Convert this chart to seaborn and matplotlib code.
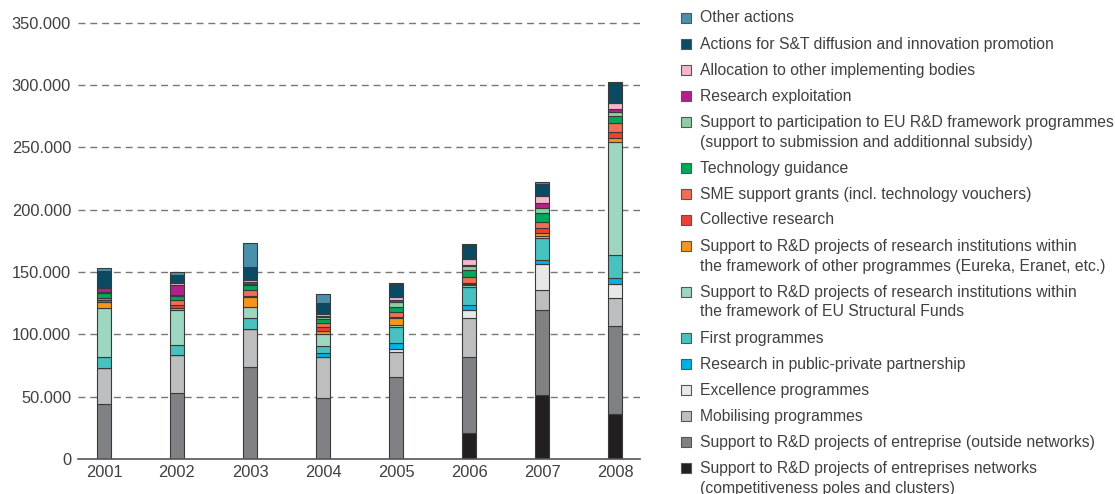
import numpy as np
import pandas as pd
import matplotlib
matplotlib.use("Agg")
import matplotlib.pyplot as plt
from matplotlib.patches import Rectangle
import seaborn as sns

# --- data (values in euros thousands) ---
years = [2001, 2002, 2003, 2004, 2005, 2006, 2007, 2008]

other_actions = [2.5, 2.4, 19.8, 7.0, 1.3, 0.8, 1.6, 1.0]
diffusion = [13.0, 7.0, 10.5, 9.0, 10.5, 11.0, 9.5, 16.0]
allocation = [1.0, 1.3, 1.0, 1.2, 2.1, 4.5, 5.5, 5.0]
exploitation = [3.0, 8.0, 1.5, 1.0, 2.1, 1.0, 4.0, 2.5]
eu_participation = [1.0, 1.0, 1.0, 1.5, 3.5, 3.5, 4.0, 2.5]
tech_guidance = [3.5, 3.2, 4.5, 3.5, 4.5, 5.3, 7.5, 6.0]
sme_grants = [2.0, 3.5, 4.3, 3.5, 4.0, 4.5, 5.0, 7.5]
collective = [1.5, 2.5, 0.8, 3.2, 0.5, 0.8, 4.0, 4.5]
other_programmes = [4.8, 1.9, 8.5, 2.4, 5.4, 1.5, 2.0, 3.0]
structural_funds = [39.3, 28.0, 8.8, 9.1, 1.5, 1.0, 1.5, 90.9]
first_prog = [8.8, 8.0, 8.8, 6.1, 13.4, 14.7, 17.9, 18.7]
ppp = [0, 0, 0, 2.7, 4.5, 4.0, 3.5, 4.8]
excellence = [0, 0, 0, 0, 2.7, 6.2, 20.6, 10.7]
mobilising = [29.0, 30.8, 30.0, 32.9, 20.1, 31.3, 16.0, 22.8]
enterprise = [44.0, 52.7, 74.1, 49.2, 65.5, 61.5, 68.2, 70.9]
networks = [0, 0, 0, 0, 0, 20.6, 51.4, 35.8]

# legend order = top of the stack first
labels = [
    "Other actions",
    "Actions for S&T diffusion and innovation promotion",
    "Allocation to other implementing bodies",
    "Research exploitation",
    "Support to participation to EU R&D framework programmes\n(support to submission and additionnal subsidy)",
    "Technology guidance",
    "SME support grants (incl. technology vouchers)",
    "Collective research",
    "Support to R&D projects of research institutions within\nthe framework of other programmes (Eureka, Eranet, etc.)",
    "Support to R&D projects of research institutions within\nthe framework of EU Structural Funds",
    "First programmes",
    "Research in public-private partnership",
    "Excellence programmes",
    "Mobilising programmes",
    "Support to R&D projects of entreprise (outside networks)",
    "Support to R&D projects of entreprises networks\n(competitiveness poles and clusters)",
]
series = [other_actions, diffusion, allocation, exploitation, eu_participation,
          tech_guidance, sme_grants, collective, other_programmes, structural_funds,
          first_prog, ppp, excellence, mobilising, enterprise, networks]
colors = ["#4a8fac", "#0b4a63", "#f7b6cc", "#b3208f", "#8fcea5",
          "#00a859", "#f26e52", "#ee3f34", "#f7941e", "#9dd6c1",
          "#47c2c0", "#00b1e6", "#e7e8e8", "#bdbebf", "#808184", "#231f20"]

rows = []
for lab, vals in zip(labels, series):
    for yr, v in zip(years, vals):
        rows.append({"year": yr, "category": lab, "value": v * 1000})
df = pd.DataFrame(rows)

sns.set_style("white")
plt.rcParams["font.family"] = ["Liberation Sans", "DejaVu Sans"]
txt_col = "#404040"

fig = plt.figure(figsize=(11.15, 4.94), dpi=100)
ax = fig.add_axes([78 / 1115, 35 / 494, 562 / 1115, 438.6 / 494])

sns.histplot(data=df, x="year", weights="value", hue="category",
             hue_order=labels, palette=dict(zip(labels, colors)),
             multiple="stack", discrete=True, shrink=0.2, alpha=1,
             edgecolor="#3a3a3a", linewidth=0.8, legend=False, ax=ax)

ax.set_xlim(years[0] - 0.356, years[-1] + 0.342)
ax.set_ylim(0, 352000)
yt = np.arange(0, 350001, 50000)
ax.set_yticks(yt)
ax.set_yticklabels([f"{v:,.0f}".replace(",", ".") for v in yt])
ax.set_xticks(years)
ax.set_xticklabels([str(y) for y in years])
ax.set_xlabel("")
ax.set_ylabel("")
ax.tick_params(axis="both", length=0, labelsize=11.8, colors=txt_col)
ax.tick_params(axis="y", pad=5)
ax.tick_params(axis="x", pad=4)

for v in yt[1:]:
    ax.axhline(v, color="#777777", lw=1, ls=(0, (5, 3.5)), zorder=0)

for s in ["top", "right", "left"]:
    ax.spines[s].set_visible(False)
ax.spines["bottom"].set_color("#555555")
ax.spines["bottom"].set_linewidth(1.2)

# legend drawn by hand so multi-line entries keep the square on the first line
W, H = 1115, 494
y = 18
for lab, col in zip(labels, colors):
    lines = lab.split("\n")
    fig.patches.append(Rectangle((681 / W, 1 - (y + 5) / H), 10 / W, 10 / H,
                                 transform=fig.transFigure, facecolor=col,
                                 edgecolor="#555555", linewidth=0.8))
    for k, line in enumerate(lines):
        fig.text(700 / W, 1 - (y + 20 * k) / H, line, fontsize=11.3,
                 color=txt_col, va="center", ha="left")
    y += 26 + 20 * (len(lines) - 1)

fig.savefig("out.png", dpi=100)
